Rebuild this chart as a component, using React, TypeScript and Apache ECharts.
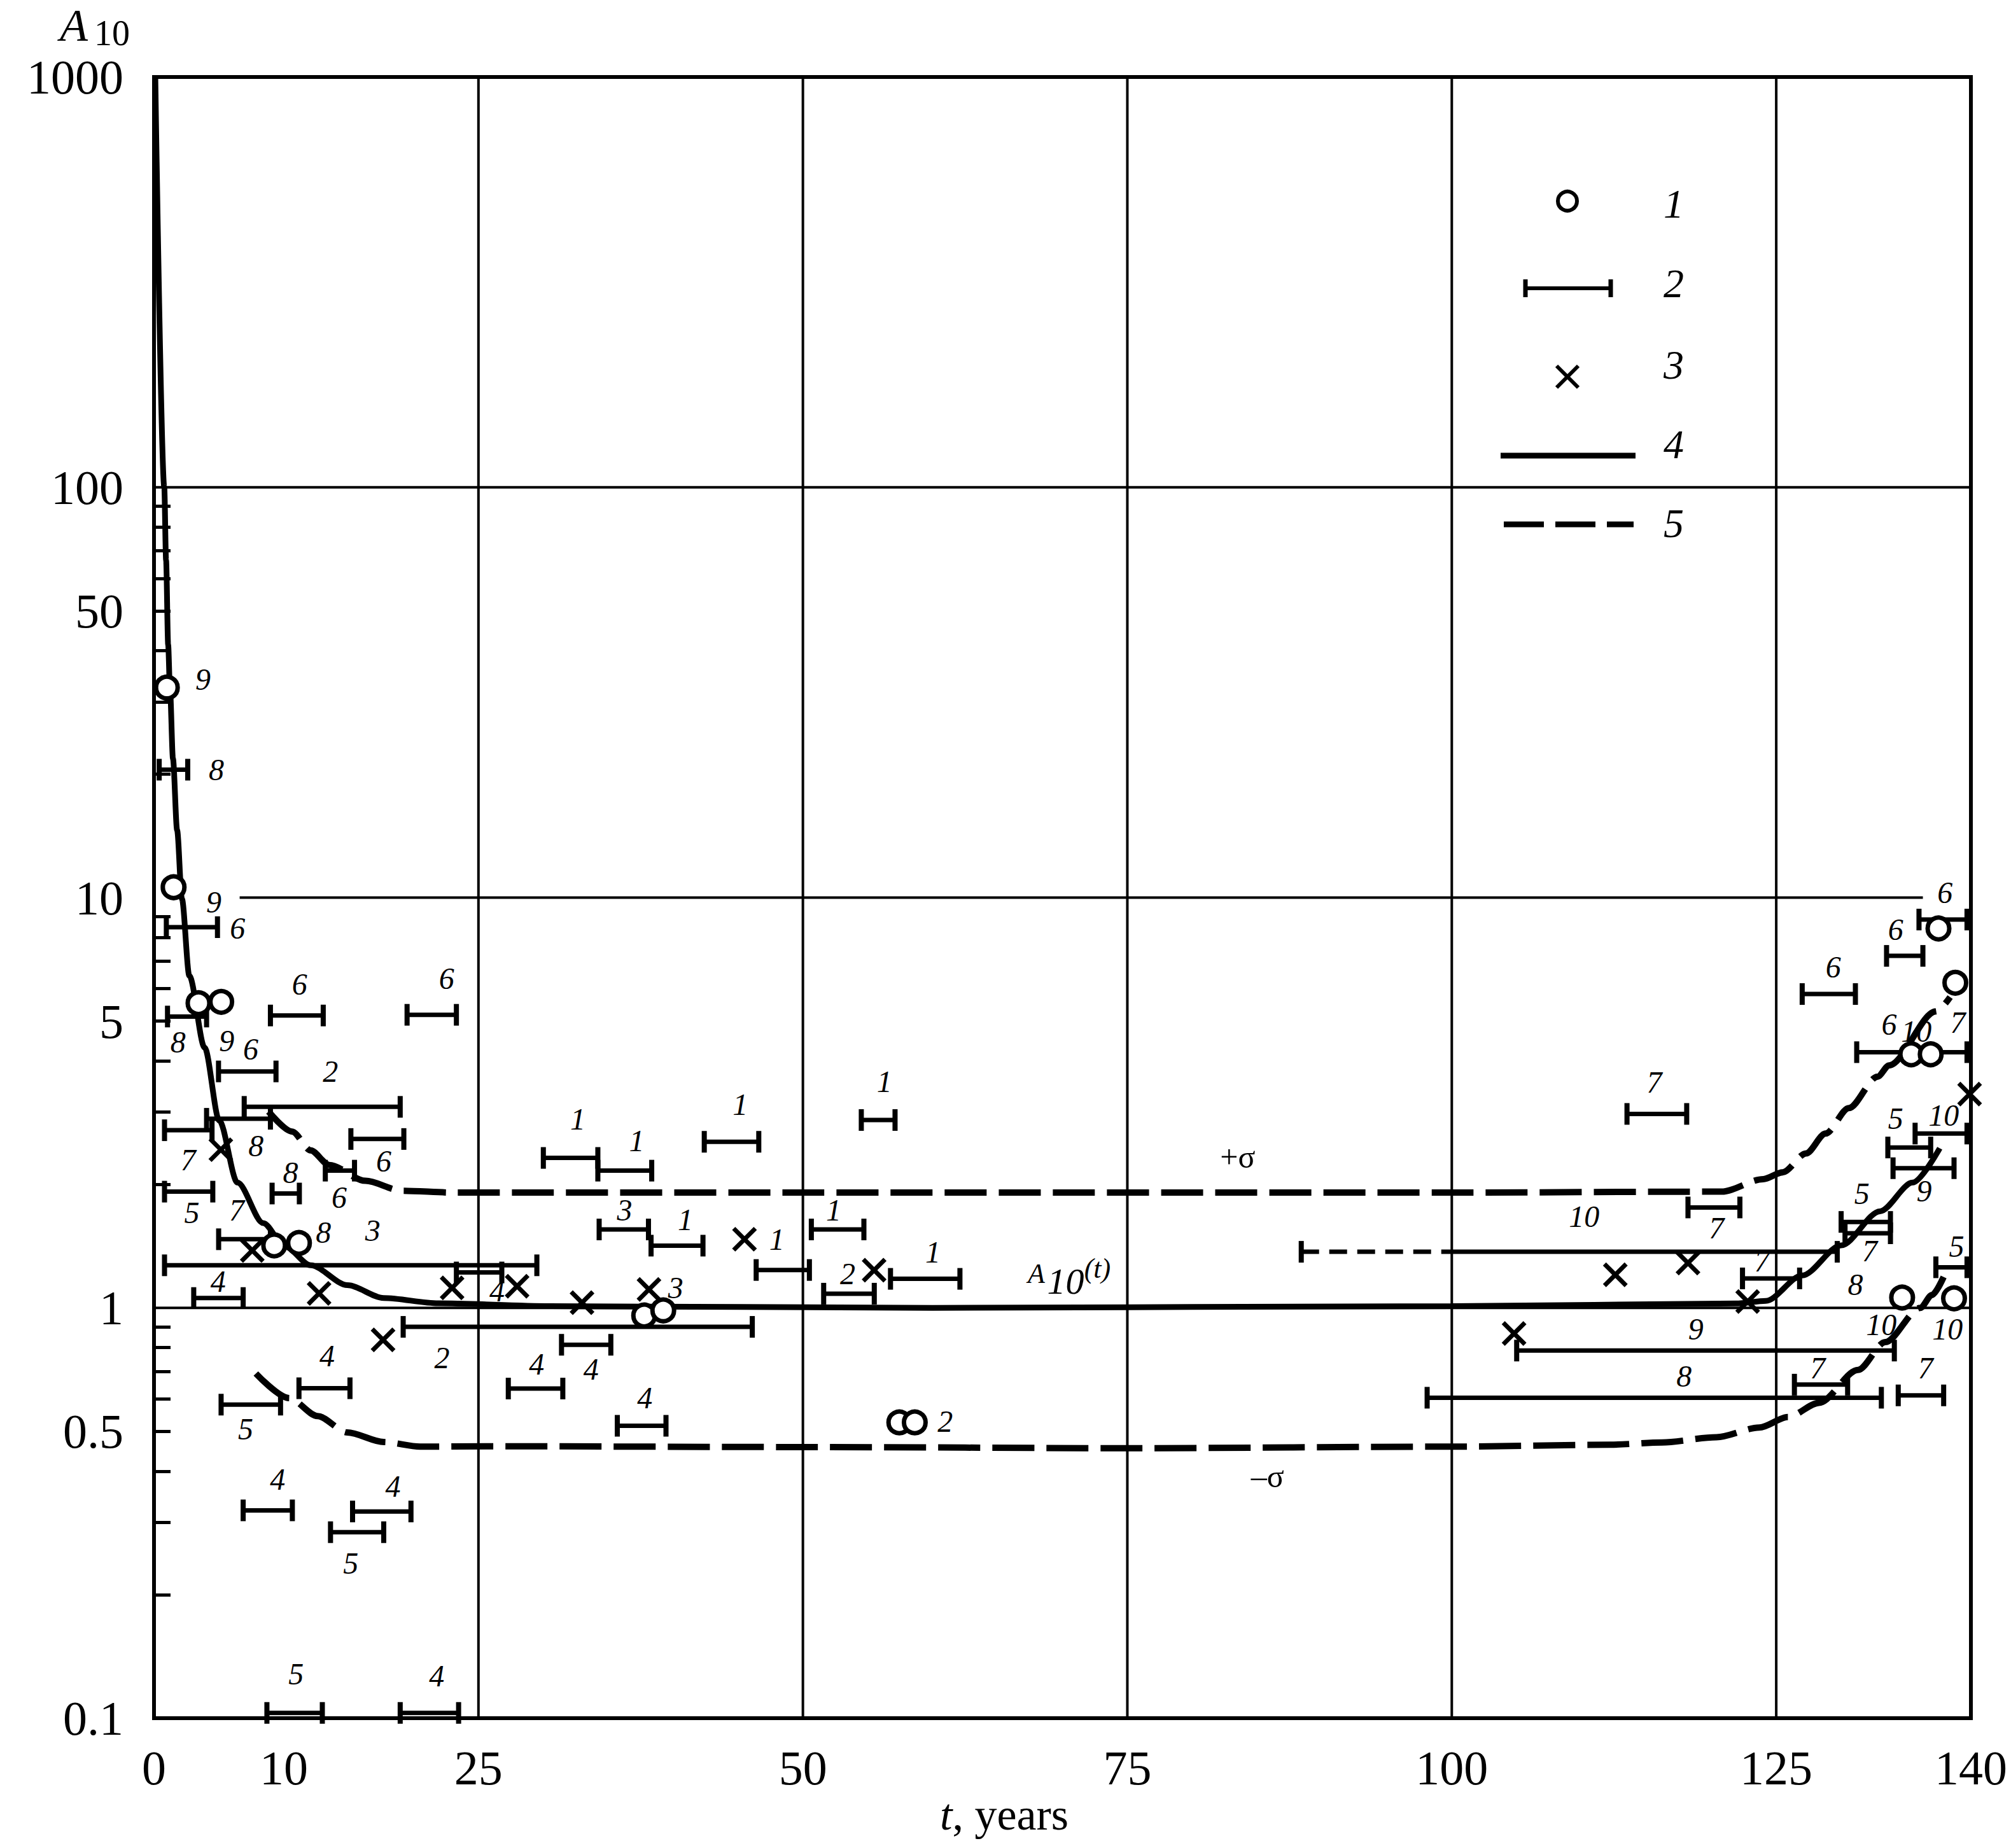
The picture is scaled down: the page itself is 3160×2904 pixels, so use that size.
import React, { useEffect, useRef } from "react";
import * as echarts from "echarts";

// ---------- axes ----------
const xTickLabels = [0, 10, 25, 50, 75, 100, 125, 140];
const yTickLabels = [0.1, 0.5, 1, 5, 10, 50, 100, 1000];
const yMinorTicks = [0.2, 0.3, 0.4, 0.5, 0.6, 0.7, 0.8, 0.9, 2, 3, 4, 5, 6, 7, 8, 9, 20, 30, 40, 50, 60, 70, 80, 90];
const verticalGridT = [25, 50, 75, 100, 125];
// [A10 level, t from, t to]
const horizontalGrid: [number, number, number][] = [
  [1, 0, 140],
  [10, 6.6, 136.3],
  [100, 0, 140],
];

// ---------- series 1: circles [t, A10] ----------
const circlePoints: [number, number][] = [
  [0.99, 32.5], [1.51, 10.6], [3.43, 5.53], [5.18, 5.57], [9.26, 1.42], [11.17, 1.44],
  [37.77, 0.958], [39.24, 0.986], [57.43, 0.526], [58.62, 0.526],
  [134.7, 1.06], [138.7, 1.055], [135.4, 4.15], [136.9, 4.15], [137.5, 8.41], [138.8, 6.2],
];

// ---------- series 2: intervals [t start, t end, A10, dashed until t] ----------
const intervals: number[][] = [
  [0.4, 2.6, 20.5], [0.95, 4.89, 8.47], [1.04, 4.05, 5.13], [8.97, 13.04, 5.16], [19.5, 23.3, 5.18],
  [4.97, 9.4, 3.77], [6.95, 18.97, 3.09], [4.05, 8.97, 2.89], [0.81, 4.47, 2.71], [15.17, 19.25, 2.58],
  [13.2, 15.45, 2.16], [9.1, 11.2, 1.9], [0.81, 4.53, 1.92], [4.98, 8.97, 1.47], [0.81, 29.5, 1.27],
  [23.3, 26.8, 1.22], [3.06, 6.87, 1.057], [19.2, 46.1, 0.899], [31.4, 35.2, 0.813], [27.3, 31.5, 0.636],
  [35.7, 39.45, 0.516], [30.0, 34.2, 2.32], [34.2, 38.35, 2.16], [42.4, 46.6, 2.54], [54.5, 57.1, 2.87],
  [34.3, 38.1, 1.553], [38.3, 42.3, 1.418], [46.4, 50.5, 1.237], [50.65, 54.7, 1.553], [51.6, 55.5, 1.083],
  [56.75, 62.1, 1.177], [5.17, 9.75, 0.581], [11.17, 15.1, 0.637], [6.87, 10.66, 0.321], [15.3, 19.8, 0.319],
  [13.6, 17.7, 0.284], [8.7, 12.97, 0.103], [18.97, 23.47, 0.103],
  [136.0, 139.7, 8.84], [133.5, 136.3, 7.21], [127.0, 131.1, 5.82], [131.2, 139.7, 4.2], [113.5, 118.1, 2.97],
  [135.7, 139.7, 2.66], [133.6, 136.9, 2.46], [134.0, 138.7, 2.19], [130.0, 133.8, 1.62], [130.3, 133.8, 1.52],
  [118.2, 122.2, 1.757], [88.4, 129.7, 1.37, 100], [122.4, 126.8, 1.18], [137.3, 139.7, 1.256],
  [105.0, 134.1, 0.787], [98.1, 133.1, 0.604], [126.4, 130.5, 0.65], [134.4, 137.9, 0.612],
];

// ---------- series 3: crosses [t, A10] ----------
const crossPoints: [number, number][] = [
  [5.15, 2.43], [7.57, 1.38], [12.72, 1.085], [17.65, 0.836], [22.97, 1.119], [27.98, 1.129],
  [32.98, 1.03], [38.14, 1.109], [45.5, 1.47], [55.49, 1.236], [104.8, 0.866], [112.6, 1.204],
  [118.2, 1.286], [122.8, 1.036], [139.9, 3.32],
];

// ---------- series 4: A10(t) ----------
const curveT = [0.1, 0.79, 0.93, 1.09, 1.23, 1.46, 1.78, 2.15, 2.72, 3.9, 5.03, 6.43, 8.41, 10.1, 12.07, 14.9, 17.7, 21.9, 30.5, 60, 100, 121.9, 124.2, 127, 130, 133, 135.5, 137.6];
const curveA = [1000, 100, 66.4, 41.3, 32.3, 21.8, 14.6, 9.93, 6.45, 4.31, 2.86, 2.02, 1.61, 1.41, 1.27, 1.136, 1.057, 1.026, 1.01, 1.0, 1.01, 1.025, 1.04, 1.2, 1.42, 1.72, 2.02, 2.45];

// ---------- series 5: +sigma / -sigma ----------
const sigmaPlusT = [8.83, 10.65, 12.07, 13.5, 16.3, 19.1, 23.05, 50, 100, 120.8, 124.0, 125.5, 127.3, 128.8, 130.6, 132.8, 133.7, 137.3, 138.4];
const sigmaPlusA = [3.01, 2.69, 2.42, 2.23, 2.04, 1.93, 1.91, 1.91, 1.91, 1.92, 2.06, 2.14, 2.38, 2.66, 3.07, 3.66, 3.9, 5.28, 5.72];
const sigmaMinusT = [7.85, 10.4, 12.6, 14.9, 17.7, 20.5, 25.6, 50, 75, 100, 112.2, 116.2, 120.4, 123.7, 125.9, 128.3, 131.3, 133.4, 136.1, 137.0, 137.9];
const sigmaMinusA = [0.692, 0.603, 0.545, 0.497, 0.471, 0.459, 0.46, 0.458, 0.455, 0.459, 0.464, 0.47, 0.484, 0.511, 0.542, 0.587, 0.706, 0.825, 1.0, 1.075, 1.19];

// ---------- source-number labels [text, t, A10] ----------
const markNumbers: [string, number, number][] = [
  ["9", 3.77, 34.0], ["9", 4.61, 9.77], ["9", 5.6, 4.48], ["8", 13.05, 1.53], ["3", 40.2, 1.119], ["2", 60.96, 0.53],
  ["10", 135.8, 4.73], ["7", 139.0, 4.96], ["8", 131.1, 1.14], ["10", 133.1, 0.909], ["10", 138.2, 0.887],
  ["8", 4.8, 20.5], ["6", 6.44, 8.43], ["8", 1.85, 4.44], ["6", 11.22, 6.16], ["6", 22.54, 6.36], ["6", 7.45, 4.28],
  ["2", 13.6, 3.77], ["8", 7.86, 2.48], ["7", 2.64, 2.3], ["6", 17.7, 2.28], ["6", 14.27, 1.86], ["8", 10.52, 2.14],
  ["5", 2.92, 1.71], ["7", 6.38, 1.73], ["3", 16.86, 1.545], ["4", 26.43, 1.1], ["4", 4.94, 1.16], ["2", 22.19, 0.757],
  ["4", 33.67, 0.71], ["4", 29.48, 0.729], ["4", 37.82, 0.603], ["1", 32.66, 2.89], ["1", 37.2, 2.56], ["1", 45.17, 3.13],
  ["1", 56.28, 3.56], ["3", 36.26, 1.73], ["1", 40.95, 1.64], ["1", 47.99, 1.47], ["1", 52.37, 1.73], ["2", 53.45, 1.21],
  ["1", 60.02, 1.37], ["5", 7.06, 0.507], ["4", 13.34, 0.765], ["4", 9.53, 0.382], ["4", 18.41, 0.368], ["5", 15.17, 0.239],
  ["5", 10.95, 0.128], ["4", 21.79, 0.127],
  ["6", 138.0, 10.3], ["6", 134.2, 8.35], ["6", 129.4, 6.78], ["6", 133.7, 4.92], ["7", 115.6, 3.55], ["10", 137.9, 2.95],
  ["5", 134.2, 2.9], ["9", 136.4, 1.93], ["5", 131.6, 1.9], ["7", 132.2, 1.38], ["7", 120.4, 1.567], ["10", 110.2, 1.67],
  ["7", 123.9, 1.3], ["5", 138.9, 1.415], ["9", 118.8, 0.887], ["8", 117.9, 0.681], ["7", 128.2, 0.715], ["7", 136.5, 0.715],
];
const curveNotes: [string, number, number][] = [["+σ", 83.5, 2.33], ["–σ", 85.8, 0.388]];
const curveNameAt: [number, number] = [70.24, 1.161];
const legendLabels = ["1", "2", "3", "4", "5"];

const FONT = '"Liberation Serif", "Times New Roman", serif';
const BLACK = "#000";

function txt(text: string, x: number, y: number, size: number, italic: boolean, lineHeight?: number) {
  return {
    type: "text",
    x,
    y,
    z: 100,
    style: {
      text,
      fill: BLACK,
      fontSize: size,
      fontFamily: FONT,
      fontStyle: italic ? "italic" : "normal",
      lineHeight: lineHeight ?? Math.round(size * 1.1),
      align: "center",
      textAlign: "center",
      verticalAlign: "middle",
      textVerticalAlign: "middle",
    },
  };
}

function ln(x1: number, y1: number, x2: number, y2: number, w: number, dash?: number[]) {
  const style: any = { stroke: BLACK, lineWidth: w, lineCap: "butt" };
  if (dash) style.lineDash = dash;
  return { type: "line", z: 100, shape: { x1, y1, x2, y2 }, style };
}

function buildOption() {
  const series: any[] = [];
  verticalGridT.forEach((t) =>
    series.push({
      type: "line", silent: true, symbol: "none", z: 1,
      data: [[t, 0.1], [t, 1000]],
      lineStyle: { color: BLACK, width: 4 },
    })
  );
  horizontalGrid.forEach(([a, f, to]) =>
    series.push({
      type: "line", silent: true, symbol: "none", z: 1,
      data: [[f, a], [to, a]],
      lineStyle: { color: BLACK, width: 4 },
    })
  );
  series.push({
    name: "4", type: "line", silent: true, symbol: "none", z: 3, smooth: 0.3, smoothMonotone: "x",
    data: curveT.map((t, i) => [t, curveA[i]]),
    lineStyle: { color: BLACK, width: 9 },
  });
  [
    [sigmaPlusT, sigmaPlusA],
    [sigmaMinusT, sigmaMinusA],
  ].forEach(([T, A]) =>
    series.push({
      name: "5", type: "line", silent: true, symbol: "none", z: 3, smooth: 0.3, smoothMonotone: "x",
      data: T.map((t, i) => [t, A[i]]),
      lineStyle: { color: BLACK, width: 10, type: [66, 19], cap: "butt" },
    })
  );
  series.push({
    name: "2", type: "custom", clip: false, z: 5, silent: true,
    dimensions: ["t1", "t2", "a", "td"],
    encode: { x: [0, 1], y: 2 },
    data: intervals.map((d) => [d[0], d[1], d[2], d.length > 3 ? d[3] : d[0]]),
    renderItem: (_p: any, api: any) => {
      const a = api.coord([api.value(0), api.value(2)]);
      const b = api.coord([api.value(1), api.value(2)]);
      const d = api.coord([api.value(3), api.value(2)]);
      const ch: any[] = [];
      if (d[0] > a[0] + 1) {
        ch.push({ type: "line", shape: { x1: a[0], y1: a[1], x2: d[0], y2: d[1] }, style: { stroke: BLACK, lineWidth: 7, lineDash: [28, 16] } });
      }
      ch.push({ type: "line", shape: { x1: d[0], y1: d[1], x2: b[0], y2: b[1] }, style: { stroke: BLACK, lineWidth: 7 } });
      ch.push({ type: "line", shape: { x1: a[0], y1: a[1] - 17, x2: a[0], y2: a[1] + 17 }, style: { stroke: BLACK, lineWidth: 8 } });
      ch.push({ type: "line", shape: { x1: b[0], y1: b[1] - 17, x2: b[0], y2: b[1] + 17 }, style: { stroke: BLACK, lineWidth: 8 } });
      return { type: "group", children: ch };
    },
  });
  series.push({
    name: "3", type: "custom", clip: false, z: 6, silent: true,
    encode: { x: 0, y: 1 },
    data: crossPoints,
    renderItem: (_p: any, api: any) => {
      const c = api.coord([api.value(0), api.value(1)]);
      const s = 17;
      return {
        type: "group",
        children: [
          { type: "line", shape: { x1: c[0] - s, y1: c[1] - s, x2: c[0] + s, y2: c[1] + s }, style: { stroke: BLACK, lineWidth: 7 } },
          { type: "line", shape: { x1: c[0] - s, y1: c[1] + s, x2: c[0] + s, y2: c[1] - s }, style: { stroke: BLACK, lineWidth: 7 } },
        ],
      };
    },
  });
  series.push({
    name: "1", type: "scatter", silent: true, z: 7,
    data: circlePoints,
    symbol: "circle", symbolSize: 34,
    itemStyle: { color: "#fff", borderColor: BLACK, borderWidth: 7, opacity: 1 },
  });
  series.push({
    type: "custom", clip: false, z: 8, silent: true,
    encode: { x: 0, y: 1 },
    data: markNumbers.map((m) => [m[1], m[2]]),
    renderItem: (p: any, api: any) => {
      const c = api.coord([api.value(0), api.value(1)]);
      return {
        type: "text", x: c[0], y: c[1],
        style: { text: markNumbers[p.dataIndex][0], fill: BLACK, fontSize: 48, fontFamily: FONT, fontStyle: "italic", align: "center", verticalAlign: "middle" },
      };
    },
  });
  series.push({
    type: "custom", clip: false, z: 8, silent: true,
    encode: { x: 0, y: 1 },
    data: curveNotes.map((m) => [m[1], m[2]]),
    renderItem: (p: any, api: any) => {
      const c = api.coord([api.value(0), api.value(1)]);
      return {
        type: "text", x: c[0], y: c[1],
        style: { text: curveNotes[p.dataIndex][0], fill: BLACK, fontSize: 50, fontFamily: FONT, align: "center", verticalAlign: "middle" },
      };
    },
  });
  series.push({
    type: "custom", clip: false, z: 8, silent: true,
    encode: { x: 0, y: 1 },
    data: [curveNameAt],
    renderItem: (_p: any, api: any) => {
      const c = api.coord([api.value(0), api.value(1)]);
      const st = (text: string, size: number) => ({ text, fill: BLACK, fontSize: size, fontFamily: FONT, fontStyle: "italic", align: "center", verticalAlign: "middle" });
      return {
        type: "group",
        children: [
          { type: "text", x: c[0] - 46, y: c[1] - 12, style: st("A", 44) },
          { type: "text", x: c[0], y: c[1], style: st("10", 58) },
          { type: "text", x: c[0] + 50, y: c[1] - 20, style: st("(t)", 44) },
        ],
      };
    },
  });

  // legend (layout elements)
  const lx = 2630;
  const legend: any[] = [
    { type: "circle", z: 100, shape: { cx: 2463, cy: 316, r: 15 }, style: { fill: "#fff", stroke: BLACK, lineWidth: 6 } },
    ln(2397, 453, 2531, 453, 6),
    ln(2397, 439, 2397, 467, 7),
    ln(2531, 439, 2531, 467, 7),
    ln(2446, 575, 2480, 609, 6),
    ln(2446, 609, 2480, 575, 6),
    ln(2358, 716, 2570, 716, 9),
    ln(2363, 824, 2567, 824, 9, [63, 18]),
  ];
  const legendY = [320, 445, 573, 698, 822];
  legendLabels.forEach((l, i) => legend.push(txt(l, lx, legendY[i], 64, true)));

  const titles: any[] = [
    txt("A", 116, 40, 72, true, 64),
    txt("10", 176, 52, 56, false, 44),
    {
      type: "text", x: 1578, y: 2851, z: 100,
      style: {
        text: "{i|t}{n|, years}", fill: BLACK, fontSize: 70, fontFamily: FONT,
        align: "center", textAlign: "center", verticalAlign: "middle", textVerticalAlign: "middle",
        rich: {
          i: { fontSize: 70, fontFamily: FONT, fontStyle: "italic", fill: BLACK },
          n: { fontSize: 70, fontFamily: FONT, fill: BLACK },
        },
      },
    },
  ];

  return {
    animation: false,
    backgroundColor: "#fff",
    grid: { left: 242, right: 63, top: 121, bottom: 204, show: true, borderColor: BLACK, borderWidth: 6, backgroundColor: "transparent", containLabel: false, outerBoundsMode: "none" },
    xAxis: {
      type: "value", min: 0, max: 140,
      axisLine: { show: false },
      axisTick: { show: false },
      splitLine: { show: false },
      axisLabel: { customValues: xTickLabels, fontSize: 76, fontFamily: FONT, color: BLACK, margin: 40, formatter: (v: number) => String(Math.round(v)) },
    },
    yAxis: {
      type: "log", logBase: 10, min: 0.1, max: 1000,
      axisLine: { show: false },
      axisTick: { show: true, inside: true, length: 26, customValues: yMinorTicks, lineStyle: { color: BLACK, width: 5 } },
      splitLine: { show: false },
      minorTick: { show: false },
      axisLabel: {
        customValues: yTickLabels, fontSize: 76, fontFamily: FONT, color: BLACK, margin: 48,
        formatter: (v: number) => String(Math.round(v * 1000) / 1000),
      },
    },
    graphic: [...legend, ...titles],
    series,
  };
}

export default function App() {
  const ref = useRef<HTMLDivElement>(null);
  useEffect(() => {
    document.body.style.margin = "0";
    if (!ref.current) return;
    const chart = echarts.init(ref.current, undefined, { renderer: "svg" });
    chart.setOption(buildOption() as any);
    return () => chart.dispose();
  }, []);
  return <div ref={ref} style={{ width: 3160, height: 2904, background: "#fff" }} />;
}
